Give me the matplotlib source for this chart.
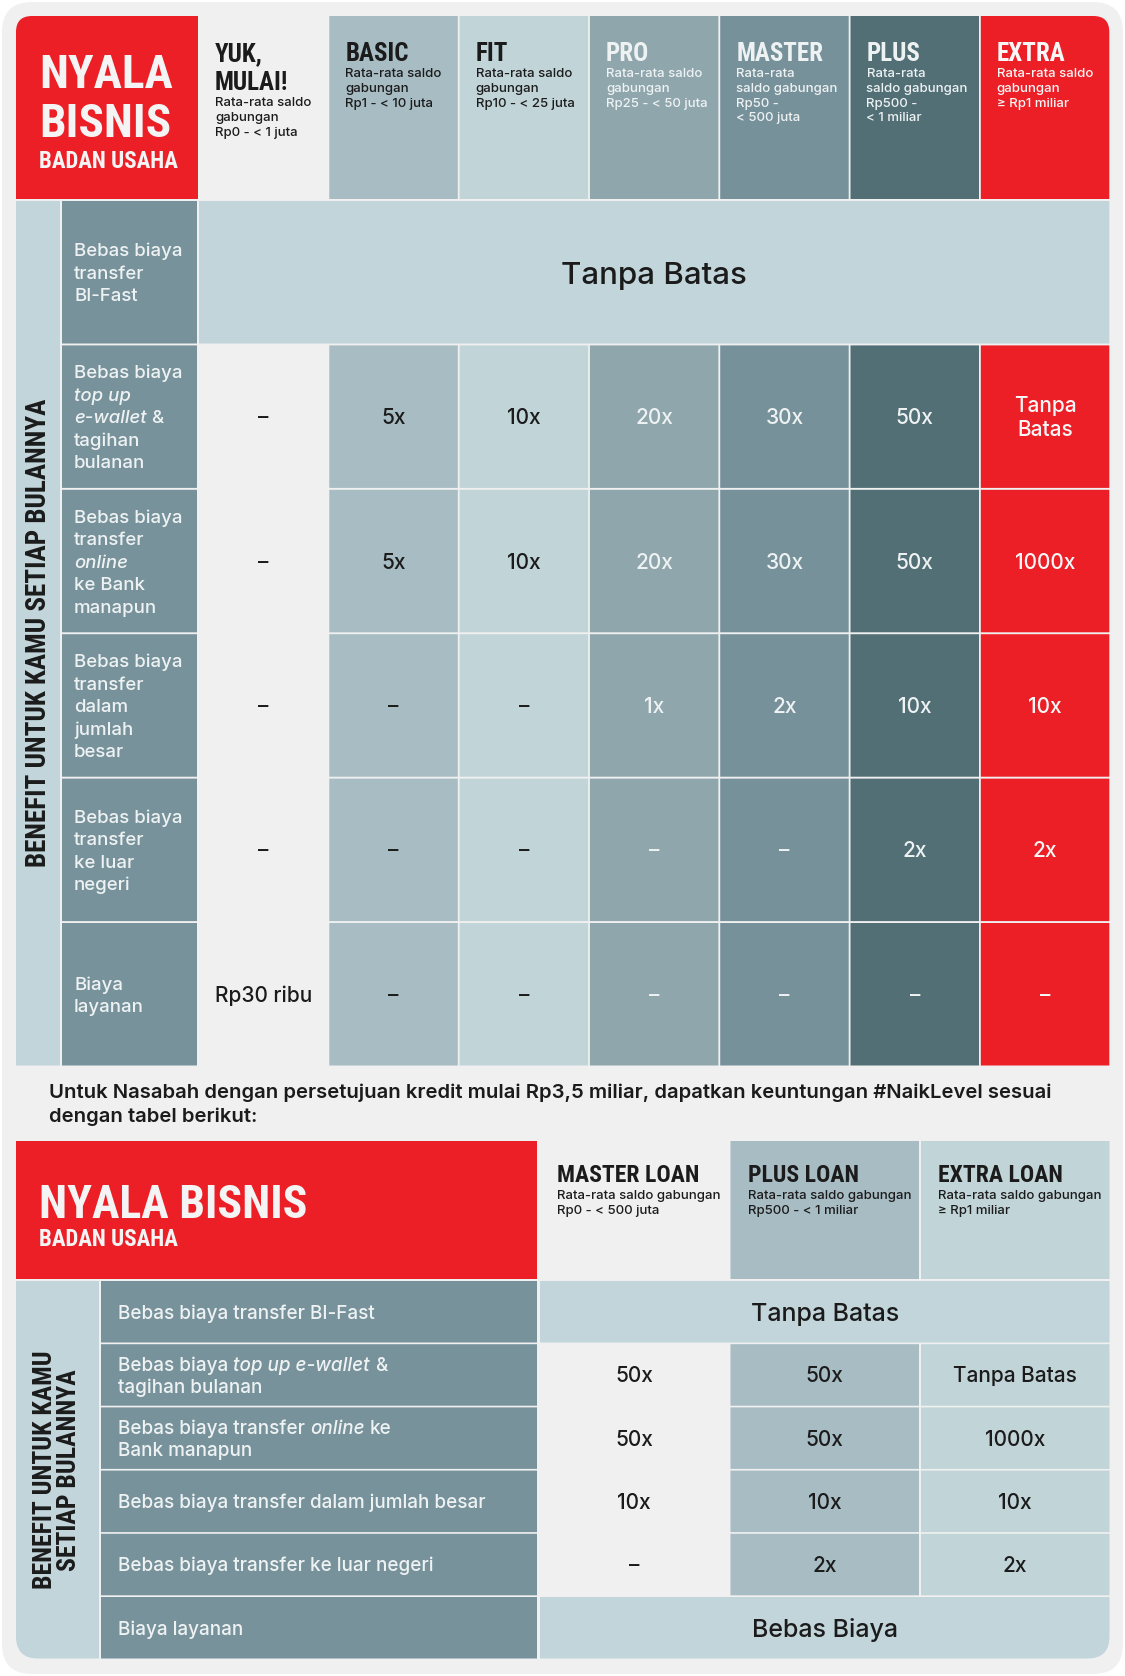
import matplotlib
matplotlib.use("Agg")
import matplotlib.pyplot as plt
from matplotlib.patches import PathPatch
from matplotlib.path import Path
from matplotlib.font_manager import FontProperties

W, H = 1125, 1676
PX = 100 / 72  # pixels per point at dpi 100

TITLE_FONT = ["Roboto Condensed", "DejaVu Sans"]
BODY_FONT = ["Inter", "DejaVu Sans"]

RED = "#ec1f27"
CARD = "#f0f0f0"
LABEL_BG = "#77929b"
PALE = "#c2d5da"
DARK = "#1b1b1b"
LIGHT = "#eef2f3"

# ---------------- table 1 data ----------------
tiers = ["YUK,\nMULAI!", "BASIC", "FIT", "PRO", "MASTER", "PLUS", "EXTRA"]
tier_desc = [
    "Rata-rata saldo\ngabungan\nRp0 - < 1 juta",
    "Rata-rata saldo\ngabungan\nRp1 - < 10 juta",
    "Rata-rata saldo\ngabungan\nRp10 - < 25 juta",
    "Rata-rata saldo\ngabungan\nRp25 - < 50 juta",
    "Rata-rata\nsaldo gabungan\nRp50 -\n< 500 juta",
    "Rata-rata\nsaldo gabungan\nRp500 -\n< 1 miliar",
    "Rata-rata saldo\ngabungan\n≥ Rp1 miliar",
]
tier_colors = [CARD, "#a7bcc3", "#c1d4d8", "#8fa6ac", "#77919a", "#526f76", RED]
tier_text = [DARK, DARK, DARK, LIGHT, LIGHT, LIGHT, "#f7f7f7"]

benefits = [
    "Bebas biaya\ntransfer\nBI-Fast",
    "Bebas biaya\n*top up*\n*e-wallet* &\ntagihan\nbulanan",
    "Bebas biaya\ntransfer\n*online*\nke Bank\nmanapun",
    "Bebas biaya\ntransfer\ndalam\njumlah\nbesar",
    "Bebas biaya\ntransfer\nke luar\nnegeri",
    "Biaya\nlayanan",
]
values = [
    ["Tanpa Batas"],
    ["–", "5x", "10x", "20x", "30x", "50x", "Tanpa\nBatas"],
    ["–", "5x", "10x", "20x", "30x", "50x", "1000x"],
    ["–", "–", "–", "1x", "2x", "10x", "10x"],
    ["–", "–", "–", "–", "–", "2x", "2x"],
    ["Rp30 ribu", "–", "–", "–", "–", "–", "–"],
]

note = ("Untuk Nasabah dengan persetujuan kredit mulai Rp3,5 miliar, dapatkan keuntungan #NaikLevel sesuai\n"
        "dengan tabel berikut:")

# ---------------- table 2 data ----------------
loan_tiers = ["MASTER LOAN", "PLUS LOAN", "EXTRA LOAN"]
loan_desc = [
    "Rata-rata saldo gabungan\nRp0 - < 500 juta",
    "Rata-rata saldo gabungan\nRp500 - < 1 miliar",
    "Rata-rata saldo gabungan\n≥ Rp1 miliar",
]
loan_colors = [CARD, "#a7bcc3", "#c1d4d8"]
loan_benefits = [
    "Bebas biaya transfer BI-Fast",
    "Bebas biaya *top up e-wallet* &\ntagihan bulanan",
    "Bebas biaya transfer *online* ke\nBank manapun",
    "Bebas biaya transfer dalam jumlah besar",
    "Bebas biaya transfer ke luar negeri",
    "Biaya layanan",
]
loan_values = [
    ["Tanpa Batas"],
    ["50x", "50x", "Tanpa Batas"],
    ["50x", "50x", "1000x"],
    ["10x", "10x", "10x"],
    ["–", "2x", "2x"],
    ["Bebas Biaya"],
]

fig = plt.figure(figsize=(W / 100, H / 100), dpi=100)
fig.patch.set_facecolor("white")
ax = fig.add_axes([0, 0, 1, 1])
ax.set_xlim(0, W)
ax.set_ylim(H, 0)
ax.axis("off")
rend = fig.canvas.get_renderer()


def box(x0, y0, x1, y1, color, tl=0, tr=0, br=0, bl=0, z=1):
    v = [(x0 + tl, y0), (x1 - tr, y0), (x1, y0), (x1, y0 + tr), (x1, y1 - br), (x1, y1), (x1 - br, y1),
         (x0 + bl, y1), (x0, y1), (x0, y1 - bl), (x0, y0 + tl), (x0, y0), (x0 + tl, y0), (x0 + tl, y0)]
    c = [Path.MOVETO, Path.LINETO, Path.CURVE3, Path.CURVE3, Path.LINETO, Path.CURVE3, Path.CURVE3,
         Path.LINETO, Path.CURVE3, Path.CURVE3, Path.LINETO, Path.CURVE3, Path.CURVE3, Path.CLOSEPOLY]
    ax.add_patch(PathPatch(Path(v, c), facecolor=color, edgecolor="none", zorder=z))


def body(size, weight=500, style="normal"):
    return FontProperties(family=BODY_FONT, size=size, weight=weight, style=style)


def title(size):
    return FontProperties(family=TITLE_FONT, size=size, weight="bold")


def tw(s, prop):
    a = rend.get_text_width_height_descent("|" + s + "|", prop, ismath=False)[0]
    b = rend.get_text_width_height_descent("||", prop, ismath=False)[0]
    return a - b


def rich(x, yc, markup, size, color, lh, weight=500, align="left"):
    lines = markup.split("\n")
    for i, line in enumerate(lines):
        yb = yc + (i - (len(lines) - 1) / 2) * lh + 0.36 * size * PX
        segs = [(p, k % 2 == 1) for k, p in enumerate(line.split("*")) if p]
        props = [body(size, weight, "italic" if it else "normal") for _, it in segs]
        total = sum(tw(s, pr) for (s, _), pr in zip(segs, props))
        xx = x - total / 2 if align == "center" else x
        for (s, _), pr in zip(segs, props):
            sp = tw(" ", pr)
            if s.startswith(" "):
                xx += sp
            st = s.strip()
            ax.text(xx, yb, st, fontproperties=pr, color=color, va="baseline", ha="left", zorder=5)
            xx += tw(st, pr)
            if s.endswith(" "):
                xx += sp


def lines_at(x, y0, text, prop, color, step):
    for i, ln in enumerate(text.split("\n")):
        ax.text(x, y0 + i * step, ln, fontproperties=prop, color=color, va="baseline", ha="left", zorder=5)


# card background
box(2, 2, W - 2, H - 2, CARD, 30, 30, 30, 30, z=0)

# ================= table 1 =================
cx0, cstep, cw = 199, 130.3, 128.5
ry0, rstep, rh = 201, 144.4, 142.5
hdr_top, hdr_bot = 16, 199

box(16, hdr_top, 198, hdr_bot, RED, tl=16)
lines_at(39, 88, "NYALA\nBISNIS", title(34), "#f4f4f4", 49)
ax.text(39, 168, "BADAN USAHA", fontproperties=title(16.5), color="#f4f4f4", va="baseline", zorder=5)

for i, (name, desc) in enumerate(zip(tiers, tier_desc)):
    x0 = cx0 + i * cstep
    box(x0, hdr_top, x0 + cw, hdr_bot, tier_colors[i], tr=16 if i == len(tiers) - 1 else 0)
    nl = name.count("\n")
    lines_at(x0 + 16, 61, name, title(18), tier_text[i], 29)
    lines_at(x0 + 16, 61 + nl * 29 + 16, desc, body(9.5, 500), tier_text[i], 14.8)

x_end = cx0 + (len(tiers) - 1) * cstep + cw
box(16, ry0, 60, ry0 + 5 * rstep + rh, PALE)
ax.text(39, (ry0 + ry0 + 5 * rstep + rh) / 2, "BENEFIT UNTUK KAMU SETIAP BULANNYA",
        fontproperties=title(19.5), color=DARK, rotation=90, ha="center", va="center", zorder=5)

for r, (lab, row) in enumerate(zip(benefits, values)):
    y0 = ry0 + r * rstep
    yc = y0 + rh / 2
    box(62, y0, 197, y0 + rh, LABEL_BG)
    rich(74, yc, lab, 13.4, "#eef2f3", 22.5)
    if len(row) == 1:
        box(cx0, y0, x_end, y0 + rh, PALE)
        rich((cx0 + x_end) / 2, yc, row[0], 22.5, DARK, 30, align="center")
        continue
    for i, v in enumerate(row):
        x0 = cx0 + i * cstep
        box(x0, y0, x0 + cw, y0 + rh, tier_colors[i])
        rich(x0 + cw / 2, yc, v, 15, tier_text[i], 24, align="center")

# note
lines_at(49, 1098, note, body(14.6, 600), DARK, 24)

# ================= table 2 =================
h2_top, h2_bot = 1141, 1279
lx0, lstep, lw = 540, 190.5, 188.5
r2y0, r2step, r2h = 1281, 63.2, 61.5
r2_end = r2y0 + 5 * r2step + r2h
lx_end = lx0 + 2 * lstep + lw

box(16, h2_top, 537, h2_bot, RED)
ax.text(39, 1218, "NYALA BISNIS", fontproperties=title(33), color="#f4f4f4", va="baseline", zorder=5)
ax.text(39, 1246, "BADAN USAHA", fontproperties=title(16.5), color="#f4f4f4", va="baseline", zorder=5)

for i, (name, desc) in enumerate(zip(loan_tiers, loan_desc)):
    x0 = lx0 + i * lstep
    box(x0, h2_top, x0 + lw, h2_bot, loan_colors[i])
    ax.text(x0 + 17, 1182, name, fontproperties=title(17), color=DARK, va="baseline", zorder=5)
    lines_at(x0 + 17, 1199, desc, body(9.5, 500), DARK, 15)

box(16, r2y0, 99, r2_end, PALE, bl=22)
ax.text(57, (r2y0 + r2_end) / 2, "BENEFIT UNTUK KAMU\nSETIAP BULANNYA", fontproperties=title(18.5),
        color=DARK, rotation=90, ha="center", va="center", multialignment="center",
        linespacing=1.0, zorder=5)

for r, (lab, row) in enumerate(zip(loan_benefits, loan_values)):
    y0 = r2y0 + r * r2step
    yc = y0 + r2h / 2
    box(101, y0, 537, y0 + r2h, LABEL_BG)
    rich(118, yc, lab, 13.6, "#eef2f3", 22)
    if len(row) == 1:
        box(lx0, y0, lx_end, y0 + r2h, PALE, br=22 if r == len(loan_values) - 1 else 0)
        rich((lx0 + lx_end) / 2, yc, row[0], 18, DARK, 26, align="center")
        continue
    for i, v in enumerate(row):
        x0 = lx0 + i * lstep
        box(x0, y0, x0 + lw, y0 + r2h, loan_colors[i])
        rich(x0 + lw / 2, yc, v, 15, DARK, 23, align="center")

fig.savefig("out.png", dpi=100, facecolor=fig.get_facecolor())
